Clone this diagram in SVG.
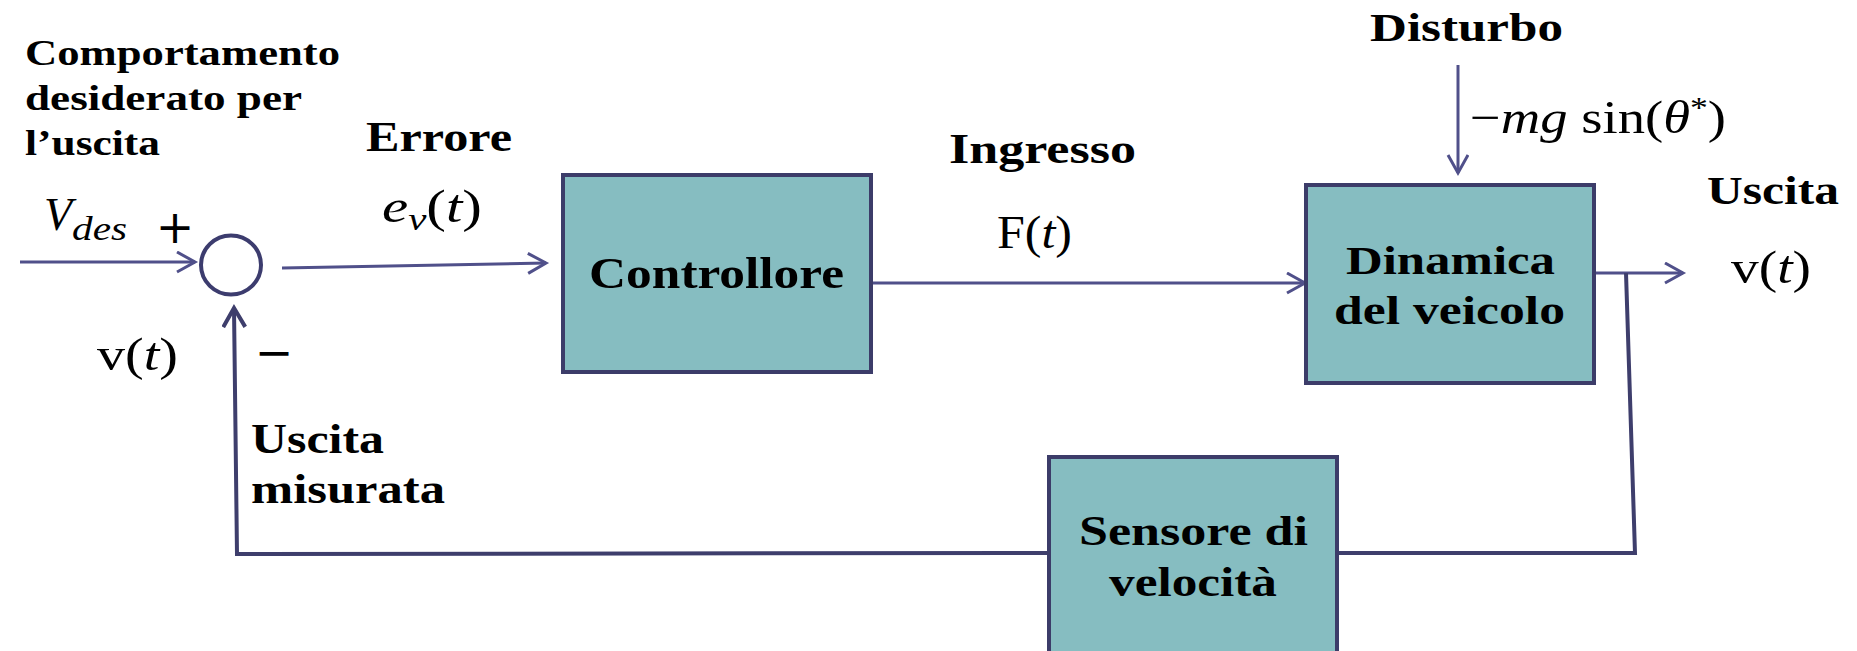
<svg xmlns="http://www.w3.org/2000/svg" width="1857" height="651" viewBox="0 0 1857 651">
<defs>
<style>
.bx{fill:#86BDC1;stroke:#3C3C69;stroke-width:4}
.lb{font-family:"Liberation Serif",serif;font-weight:bold;fill:#000}
.mt{font-family:"Liberation Serif",serif;fill:#000}
.sg{font-family:"DejaVu Sans",sans-serif;fill:#000}
.it{font-style:italic}
.ar{fill:none;stroke:#50508A;stroke-width:3}
.fb{fill:none;stroke:#3E3E6C;stroke-width:4}
</style>
<marker id="chev" markerUnits="userSpaceOnUse" markerWidth="24" markerHeight="26" refX="19" refY="11" orient="auto" viewBox="0 0 24 26">
<path d="M1,1 L19,11 L1,21" fill="none" stroke="#50508A" stroke-width="3"/>
</marker>
<marker id="chevd" markerUnits="userSpaceOnUse" markerWidth="26" markerHeight="26" refX="20" refY="12" orient="auto" viewBox="0 0 26 26">
<path d="M1,1 L20,12 L1,23" fill="none" stroke="#3E3E6C" stroke-width="4"/>
</marker>
</defs>
<rect width="1857" height="651" fill="#fff"/>

<g id="connectors">
<line class="ar" x1="20" y1="262" x2="195" y2="262" marker-end="url(#chev)"/>
<line class="ar" x1="282" y1="268" x2="546" y2="263" marker-end="url(#chev)"/>
<line class="ar" x1="871" y1="283" x2="1305" y2="283" marker-end="url(#chev)"/>
<line class="ar" x1="1458" y1="65" x2="1458" y2="173" marker-end="url(#chev)"/>
<line class="ar" x1="1594" y1="273" x2="1683" y2="273" marker-end="url(#chev)"/>
<polyline class="fb" points="1626,273 1635,553 1337,553"/>
<polyline class="fb" points="1049,553 237,554 234,308" marker-end="url(#chevd)"/>
</g>

<g id="sum">
<ellipse cx="231" cy="265" rx="30" ry="29.5" fill="#fff" stroke="#3C3C6E" stroke-width="4"/>
</g>

<g id="controllore">
<rect class="bx" x="563" y="175" width="308" height="197"/>
<text class="lb" x="716.5" y="288" font-size="45" text-anchor="middle" textLength="255" lengthAdjust="spacingAndGlyphs">Controllore</text>
</g>

<g id="dinamica">
<rect class="bx" x="1306" y="185" width="288" height="198"/>
<text class="lb" x="1450.5" y="274" font-size="41" text-anchor="middle" textLength="209" lengthAdjust="spacingAndGlyphs">Dinamica</text>
<text class="lb" x="1449.5" y="324" font-size="41" text-anchor="middle" textLength="231" lengthAdjust="spacingAndGlyphs">del veicolo</text>
</g>

<g id="sensore">
<rect class="bx" x="1049" y="457" width="288" height="210"/>
<text class="lb" x="1193.5" y="545" font-size="43" text-anchor="middle" textLength="229" lengthAdjust="spacingAndGlyphs">Sensore di</text>
<text class="lb" x="1193" y="596" font-size="43" text-anchor="middle" textLength="168" lengthAdjust="spacingAndGlyphs">velocità</text>
</g>

<g id="labels">
<text class="lb" x="25" y="65" font-size="36" textLength="315" lengthAdjust="spacingAndGlyphs">Comportamento</text>
<text class="lb" x="25" y="110" font-size="36" textLength="277" lengthAdjust="spacingAndGlyphs">desiderato per</text>
<text class="lb" x="25" y="155" font-size="36" textLength="135" lengthAdjust="spacingAndGlyphs">l’uscita</text>
<text class="lb" x="366" y="151" font-size="42" textLength="146" lengthAdjust="spacingAndGlyphs">Errore</text>
<text class="lb" x="949" y="163" font-size="42" textLength="187" lengthAdjust="spacingAndGlyphs">Ingresso</text>
<text class="lb" x="1370" y="41" font-size="40" textLength="193" lengthAdjust="spacingAndGlyphs">Disturbo</text>
<text class="lb" x="1707" y="204" font-size="41" textLength="132" lengthAdjust="spacingAndGlyphs">Uscita</text>
<text class="lb" x="251" y="453" font-size="43" textLength="133" lengthAdjust="spacingAndGlyphs">Uscita</text>
<text class="lb" x="251" y="503" font-size="43" textLength="194" lengthAdjust="spacingAndGlyphs">misurata</text>

<text class="mt it" x="44" y="230" font-size="46">V</text>
<text class="mt it" x="72" y="240" font-size="34" textLength="55" lengthAdjust="spacingAndGlyphs">des</text>
<text class="sg" x="175" y="243" font-size="46" text-anchor="middle">+</text>
<text class="sg" x="274" y="368" font-size="46" text-anchor="middle">−</text>
<text class="mt" x="382" y="222" font-size="46" textLength="100" lengthAdjust="spacingAndGlyphs"><tspan class="it">e</tspan><tspan class="it" font-size="32" dy="8">v</tspan><tspan dy="-8">(</tspan><tspan class="it">t</tspan>)</text>
<text class="mt" x="97" y="370" font-size="46" textLength="81" lengthAdjust="spacingAndGlyphs">v(<tspan class="it">t</tspan>)</text>
<text class="mt" x="997" y="248" font-size="46" textLength="75" lengthAdjust="spacingAndGlyphs">F(<tspan class="it">t</tspan>)</text>
<text class="mt" x="1470" y="133" font-size="46" textLength="256" lengthAdjust="spacingAndGlyphs">−<tspan class="it">mg</tspan> sin(<tspan class="it">θ</tspan><tspan font-size="30" dy="-16">*</tspan><tspan dy="16">)</tspan></text>
<text class="mt" x="1731" y="283" font-size="46" textLength="80" lengthAdjust="spacingAndGlyphs">v(<tspan class="it">t</tspan>)</text>
</g>
</svg>
